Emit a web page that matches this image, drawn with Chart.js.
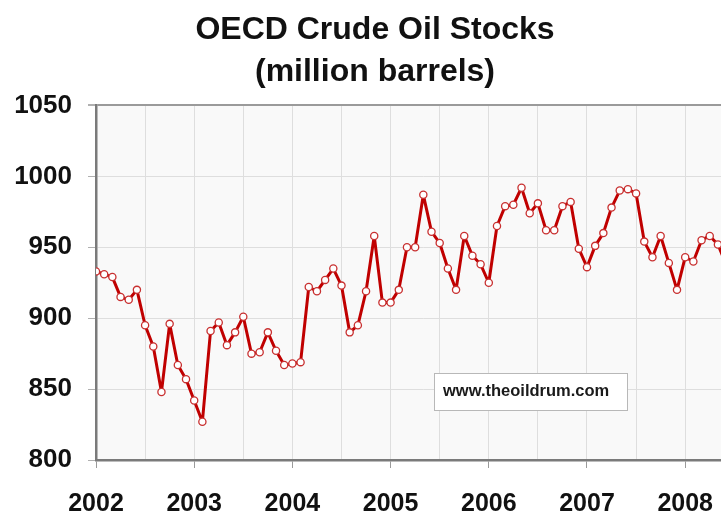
<!DOCTYPE html>
<html>
<head>
<meta charset="utf-8">
<title>OECD Crude Oil Stocks</title>
<script src="https://cdn.jsdelivr.net/npm/chart.js@4.4.1/dist/chart.umd.min.js"></script>
<style>
  html, body { margin: 0; padding: 0; background: #fff; overflow: hidden; }
  #wrap { width: 721px; height: 512px; overflow: hidden; }
</style>
</head>
<body>
<div id="wrap"><canvas id="stocksChart" width="760" height="512"></canvas></div>
<script>
// Monthly OECD crude oil stocks, million barrels, starting Jan 2002
var startYear = 2002;
var stocks2002 = [933, 931, 929, 915, 913, 920, 895, 880, 848, 896, 867, 857];
var stocks2003 = [842, 827, 891, 897, 881, 890, 901, 875, 876, 890, 877, 867];
var stocks2004 = [868, 869, 922, 919, 927, 935, 923, 890, 895, 919, 958, 911];
var stocks2005 = [911, 920, 950, 950, 987, 961, 953, 935, 920, 958, 944, 938];
var stocks2006 = [925, 965, 979, 980, 992, 974, 981, 962, 962, 979, 982, 949];
var stocks2007 = [936, 951, 960, 978, 990, 991, 988, 954, 943, 958, 939, 920];
var stocks2008 = [943, 940, 955, 958, 952, 938];

var yearTicks = [2002, 2003, 2004, 2005, 2006, 2007, 2008];
var stockTicks = [800, 850, 900, 950, 1000, 1050];
var titleLines = ['OECD Crude Oil Stocks', '(million barrels)'];
var sourceNote = 'www.theoildrum.com';

(function () {
  'use strict';

  var values = [].concat(stocks2002, stocks2003, stocks2004, stocks2005, stocks2006, stocks2007, stocks2008);
  var points = values.map(function (v, i) {
    return { x: startYear + i / 12, y: v };
  });

  var FONT = "'Liberation Sans', Arial, Helvetica, sans-serif";

  // light grey plot background
  var plotBg = {
    id: 'plotBg',
    beforeDraw: function (chart) {
      var a = chart.chartArea, ctx = chart.ctx;
      ctx.save();
      ctx.fillStyle = '#f9f9f9';
      ctx.fillRect(a.left, a.top, a.right - a.left, a.bottom - a.top);
      ctx.restore();
    }
  };

  // source box
  var sourceBox = {
    id: 'sourceBox',
    afterDraw: function (chart) {
      var ctx = chart.ctx;
      ctx.save();
      ctx.fillStyle = '#ffffff';
      ctx.fillRect(434, 373, 193, 37);
      ctx.strokeStyle = '#b8b8b8';
      ctx.lineWidth = 1;
      ctx.strokeRect(434.5, 373.5, 193, 37);
      ctx.fillStyle = '#1a1a1a';
      ctx.font = 'bold 16.5px ' + FONT;
      ctx.textBaseline = 'middle';
      ctx.fillText(sourceNote, 443, 391);
      ctx.restore();
    }
  };

  new Chart(document.getElementById('stocksChart').getContext('2d'), {
    type: 'line',
    data: {
      datasets: [{
        data: points,
        borderColor: '#c00000',
        borderWidth: 3,
        borderJoinStyle: 'round',
        tension: 0,
        pointRadius: 3.6,
        pointBackgroundColor: '#ffffff',
        pointBorderColor: '#c83030',
        pointBorderWidth: 1.3
      }]
    },
    options: {
      responsive: false,
      animation: false,
      layout: { padding: { left: 0, right: 10, top: 0, bottom: 0 } },
      plugins: {
        legend: { display: false },
        tooltip: { enabled: false },
        title: {
          display: true,
          text: titleLines,
          color: '#111',
          font: { family: FONT, size: 32, weight: 'bold', lineHeight: 1.32 },
          padding: { top: 9, bottom: 12 }
        }
      },
      scales: {
        x: {
          type: 'linear',
          min: yearTicks[0],
          max: 2008.66,
          afterFit: function (s) { s.height = 52; },
          border: { color: '#7a7a7a', width: 2.5 },
          grid: {
            color: '#dedede',
            lineWidth: 1,
            tickLength: 8,
            tickColor: function (c) {
              return yearTicks.indexOf(c.tick && c.tick.value) >= 0 ? '#9a9a9a' : 'rgba(0,0,0,0)';
            }
          },
          ticks: {
            stepSize: 0.5,
            includeBounds: false,
            autoSkip: false,
            maxRotation: 0,
            padding: 21,
            color: '#111',
            font: { family: FONT, size: 25, weight: 'bold' },
            callback: function (v) {
              return yearTicks.indexOf(v) >= 0 ? String(v) : '';
            }
          }
        },
        y: {
          min: stockTicks[0],
          max: stockTicks[stockTicks.length - 1],
          afterFit: function (s) { s.width = 96; },
          border: { color: '#7a7a7a', width: 2.5 },
          grid: {
            color: function (c) {
              return c.tick && c.tick.value === 1050 ? '#9a9a9a' : '#dedede';
            },
            lineWidth: function (c) {
              return c.tick && c.tick.value === 1050 ? 2 : 1;
            },
            tickLength: 8,
            tickColor: '#b0b0b0'
          },
          ticks: {
            stepSize: 50,
            padding: 16,
            color: '#111',
            font: { family: FONT, size: 26, weight: 'bold' },
            callback: function (v) { return String(v); }
          }
        }
      }
    },
    plugins: [plotBg, sourceBox]
  });
})();
</script>
</body>
</html>
